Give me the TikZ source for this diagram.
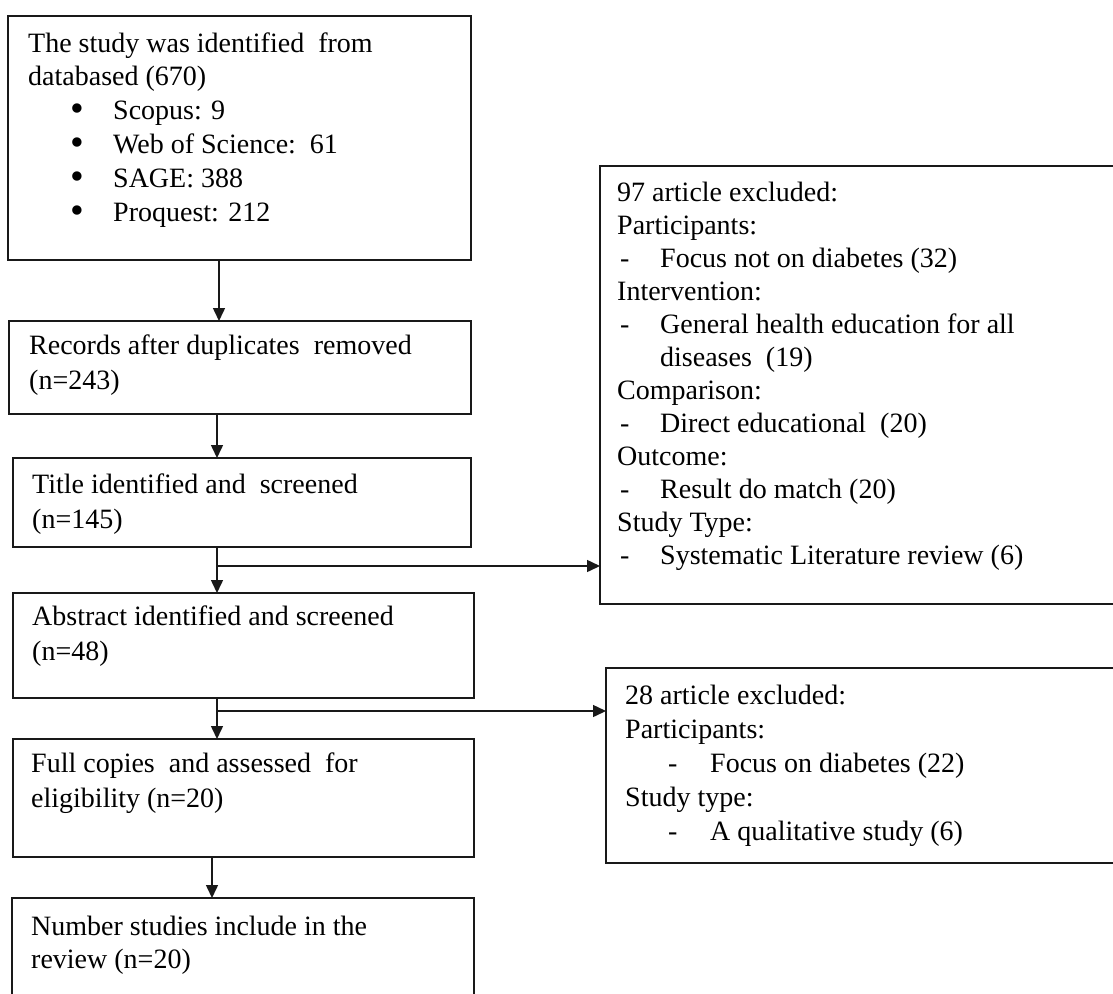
\documentclass[tikz,border=0pt]{standalone}
\usepackage{fontspec}
\setmainfont{Liberation Serif}
\usetikzlibrary{arrows.meta}
\newcommand{\bigbul}{\makebox[43pt][l]{\smash{\raisebox{-2.5pt}{\scalebox{1.4}{•}}}}}
\begin{document}
\begin{tikzpicture}[x=1pt,y=-1pt,
  box/.style={draw=black!90, line width=1.6pt, inner sep=0pt, outer sep=0pt},
  arr/.style={draw=black!90, line width=1.5pt, -{Triangle[width=12pt,length=13pt]}},
  txt/.style={anchor=base west, inner sep=0pt, align=left, font=\fontsize{28}{33}\selectfont},
  txtb/.style={txt, font=\fontsize{28}{35}\selectfont}]
\useasboundingbox (0,0) rectangle (1113,993);
\clip (0,0) rectangle (1113,993);
% boxes
\node[box, minimum width=463pt, minimum height=244pt] (b1) at (239.5,138) {};
\node[box, minimum width=462pt, minimum height=93pt] (b2) at (240,367.5) {};
\node[box, minimum width=458pt, minimum height=89pt] (b3) at (242,502.5) {};
\node[box, minimum width=461pt, minimum height=105pt] (b4) at (243.5,645.5) {};
\node[box, minimum width=461pt, minimum height=118pt] (b5) at (243.5,798) {};
\node[box, minimum width=462pt, minimum height=112pt] (b6) at (243,954) {};
\node[box, minimum width=525pt, minimum height=438pt] (r1) at (862.5,385) {};
\node[box, minimum width=519pt, minimum height=195pt] (r2) at (865.5,765.5) {};
% texts (anchored at the baseline of their last line)
\node[txt] (t1) at (28,221) {The study was identified\ \ from\\databased (670)\\[1pt]
\hspace*{42pt}\bigbul Scopus: 9\\[1pt]
\hspace*{42pt}\bigbul Web of Science:\ \ 61\\[1pt]
\hspace*{42pt}\bigbul SAGE: 388\\[1pt]
\hspace*{42pt}\bigbul Proquest: 212};
\node[txtb] (t2) at (29,389) {Records after duplicates\ \ removed\\(n=243)};
\node[txtb] (t3) at (32,528) {Title identified and\ \ screened\\(n=145)};
\node[txtb] (t4) at (32,660) {Abstract identified and screened\\(n=48)};
\node[txtb] (t5) at (31,807) {Full copies\ \ and assessed\ \ for\\eligibility (n=20)};
\node[txt] (t6) at (31,968) {Number studies include in the\\review (n=20)};
\node[txt] (t7) at (617,564) {97 article excluded:\\Participants:\\
\hspace*{3pt}\makebox[40pt][l]{-}Focus not on diabetes (32)\\Intervention:\\
\hspace*{3pt}\makebox[40pt][l]{-}General health education for all\\
\hspace*{43pt}diseases\ \ (19)\\Comparison:\\
\hspace*{3pt}\makebox[40pt][l]{-}Direct educational\ \ (20)\\Outcome:\\
\hspace*{3pt}\makebox[40pt][l]{-}Result do match (20)\\Study Type:\\
\hspace*{3pt}\makebox[40pt][l]{-}Systematic Literature review (6)};
\node[txt, font=\fontsize{28}{34}\selectfont] (t8) at (625,840) {28 article excluded:\\Participants:\\
\hspace*{43pt}\makebox[42pt][l]{-}Focus on diabetes (22)\\Study type:\\
\hspace*{43pt}\makebox[42pt][l]{-}A qualitative study (6)};
% connectors
\coordinate (k1) at (219,0);
\coordinate (k2) at (217,0);
\coordinate (k3) at (212,0);
\coordinate (j1) at (217,566);
\coordinate (j2) at (217,711);
\draw[arr] (b1.south -| k1) -- (b2.north -| k1);
\draw[arr] (b2.south -| k2) -- (b3.north -| k2);
\draw[arr] (b3.south -| k2) -- (b4.north -| k2);
\draw[arr] (b4.south -| k2) -- (b5.north -| k2);
\draw[arr] (b5.south -| k3) -- (b6.north -| k3);
\draw[arr] (j1) -- (j1 -| r1.west);
\draw[arr] (j2) -- (j2 -| r2.west);
\end{tikzpicture}
\end{document}
